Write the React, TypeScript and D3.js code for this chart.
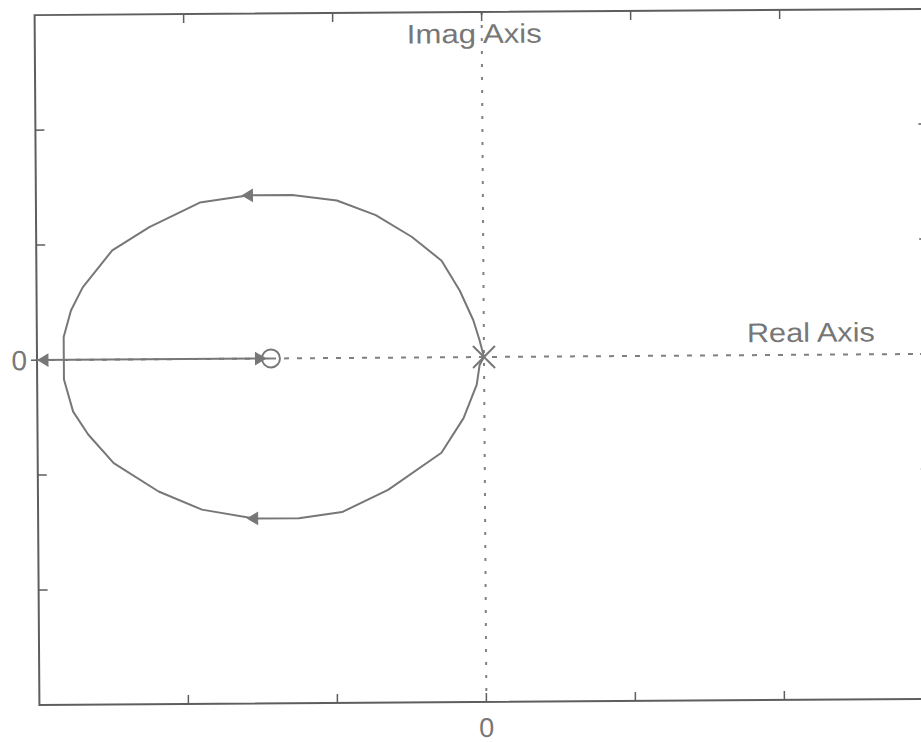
import React from 'react';
import * as d3 from 'd3';

// root locus (real, imag)
const upperBranch: [number, number][] = [
  [0, 0], [-0.03, 0.15], [-0.07, 0.32], [-0.16, 0.58], [-0.28, 0.84],
  [-0.48, 1.05], [-0.72, 1.24], [-0.98, 1.37], [-1.28, 1.42], [-1.57, 1.42],
  [-1.9, 1.36], [-2.24, 1.15], [-2.49, 0.95], [-2.69, 0.63], [-2.77, 0.43],
  [-2.82, 0.2], [-2.82, 0],
];
const lowerBranch: [number, number][] = [
  [0, 0], [-0.03, -0.07], [-0.05, -0.24], [-0.14, -0.53], [-0.29, -0.83],
  [-0.65, -1.15], [-0.96, -1.34], [-1.25, -1.39], [-1.55, -1.39], [-1.9, -1.31],
  [-2.19, -1.15], [-2.49, -0.9], [-2.66, -0.65], [-2.76, -0.45], [-2.82, -0.17],
  [-2.82, 0],
];
const realAxisLocus: [number, number][] = [[-3, 0], [-1.43, 0]];
const poles: [number, number][] = [[0, 0]];
const zeros: [number, number][] = [[-1.43, 0]];
const arrows = [
  { x: -1.58, y: 1.42, dir: -1 },
  { x: -1.56, y: -1.39, dir: -1 },
  { x: -2.96, y: 0, dir: -1 },
  { x: -1.5, y: 0, dir: 1 },
];
const tickValues = [-2, -1, 0, 1, 2];
const tickLabels = ['0'];

const W = 921;
const H = 742;
const left = 37, right = 931, top = 12, bottom = 702;

const App = () => {
  const x = d3.scaleLinear().domain([-3, 3]).range([left, right]);
  const y = d3.scaleLinear().domain([-3, 3]).range([bottom, top]);
  const line = d3.line<[number, number]>().x(d => x(d[0])).y(d => y(d[1]));
  const tl = 9;
  const frame = '#5e5e5e';
  const gray = '#777';
  const font = 'Liberation Sans, Arial, sans-serif';

  return (
    <svg width={W} height={H} style={{ position: 'absolute', left: 0, top: 0, background: '#fff' }}>
      <g transform={`rotate(-0.4, ${x(0)}, ${y(0)})`}>
        {/* dotted axes */}
        <line x1={x(0)} x2={x(0)} y1={top} y2={bottom} stroke="#808080" strokeWidth={2} strokeDasharray="3,10" />
        <line x1={left} x2={right} y1={y(0)} y2={y(0)} stroke="#808080" strokeWidth={2} strokeDasharray="5,8" />

        {/* frame */}
        <rect x={left} y={top} width={right - left} height={bottom - top} fill="none" stroke={frame} strokeWidth={2} />
        {tickValues.map(t => (
          <g key={'x' + t} stroke={frame} strokeWidth={1.5}>
            <line x1={x(t)} x2={x(t)} y1={bottom} y2={bottom - tl} />
            <line x1={x(t)} x2={x(t)} y1={top} y2={top + tl} />
          </g>
        ))}
        {tickValues.map(t => (
          <g key={'y' + t} stroke={frame} strokeWidth={1.5}>
            <line x1={t === 0 ? left - 6 : left} x2={left + tl} y1={y(t)} y2={y(t)} />
            <line x1={right} x2={right - tl - 2} y1={y(t)} y2={y(t)} />
          </g>
        ))}
        <text x={x(0)} y={737} textAnchor="middle" fontFamily={font} fontSize={27} fill="#777">{tickLabels[0]}</text>
        <text x={27} y={y(0) + 10} textAnchor="end" fontFamily={font} fontSize={28} fill="#777">{tickLabels[0]}</text>

        {/* locus */}
        <path d={line(upperBranch) ?? ''} fill="none" stroke={gray} strokeWidth={2} strokeLinejoin="round" />
        <path d={line(lowerBranch) ?? ''} fill="none" stroke={gray} strokeWidth={2} strokeLinejoin="round" />
        <path d={line(realAxisLocus) ?? ''} fill="none" stroke={gray} strokeWidth={2} />

        {arrows.map((a, i) => {
          const cx = x(a.x), cy = y(a.y);
          const pts = [[cx + a.dir * 5, cy], [cx - a.dir * 5, cy - 6], [cx - a.dir * 5, cy + 6]];
          return <polygon key={i} points={pts.map(p => p.join(',')).join(' ')} fill={gray} stroke={gray} strokeWidth={1} />;
        })}

        {zeros.map((z, i) => (
          <circle key={i} cx={x(z[0])} cy={y(z[1])} r={9} fill="none" stroke={gray} strokeWidth={2} />
        ))}
        {poles.map((p, i) => (
          <g key={i} stroke={gray} strokeWidth={2}>
            <line x1={x(p[0]) - 11} x2={x(p[0]) + 11} y1={y(p[1]) - 11} y2={y(p[1]) + 11} />
            <line x1={x(p[0]) - 11} x2={x(p[0]) + 11} y1={y(p[1]) + 11} y2={y(p[1]) - 11} />
          </g>
        ))}

        <text x={409} y={43} fontFamily={font} fontSize={27} fill="#777" textLength={135} lengthAdjust="spacingAndGlyphs">Imag Axis</text>
        <text x={747} y={344} fontFamily={font} fontSize={27} fill="#777" textLength={128} lengthAdjust="spacingAndGlyphs">Real Axis</text>
      </g>
    </svg>
  );
};

export default App;
